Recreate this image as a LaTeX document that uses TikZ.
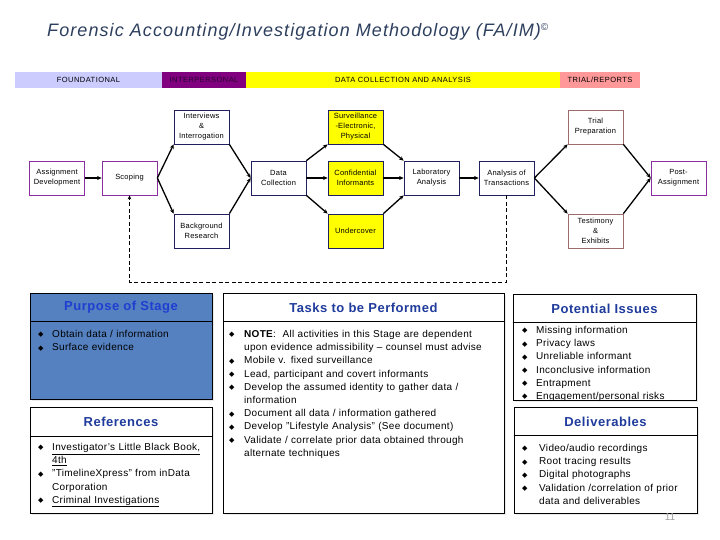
\documentclass[tikz,border=0pt]{standalone}
\usepackage{fontspec}
\setmainfont{Liberation Sans}
\newfontfamily\dvfont{DejaVu Sans}
\usetikzlibrary{arrows.meta,shadows}
\definecolor{titlecol}{HTML}{2D3F5E}
\definecolor{foundcol}{HTML}{CCCCFF}
\definecolor{interpcol}{HTML}{800080}
\definecolor{interptext}{HTML}{2A0030}
\definecolor{datacol}{HTML}{FFFF00}
\definecolor{trialcol}{HTML}{FF9999}
\definecolor{purplebd}{HTML}{8B2FA0}
\definecolor{navybd}{HTML}{202060}
\definecolor{brownbd}{HTML}{9C6B6B}
\definecolor{purposefill}{HTML}{5581C1}
\definecolor{hdrblue}{HTML}{1F3B9B}
\definecolor{hdrbright}{HTML}{1E3FD0}
\newcommand{\bul}[1]{\makebox[#1][l]{\raisebox{0.5pt}{\dvfont\fontsize{7}{7}\selectfont ◆}}}
\newcommand{\bitem}[2]{\par\noindent\hangindent=#1\hangafter=1\bul{#1}#2\par}
\begin{document}
\begin{tikzpicture}[x=1pt,y=-1pt,
  barseg/.style={minimum height=16pt, inner sep=0, font=\fontsize{7.5}{8}\selectfont\addfontfeature{LetterSpace=6}},
  flowbox/.style={draw, line width=0.7pt, fill=white, minimum width=55pt, minimum height=34pt, inner sep=1pt, align=center, font=\fontsize{7.5}{10}\selectfont\addfontfeature{LetterSpace=3}},
  purplebox/.style={flowbox, draw=purplebd},
  navybox/.style={flowbox, draw=navybd},
  yellowbox/.style={flowbox, draw=navybd, fill=datacol},
  brownbox/.style={flowbox, draw=brownbd},
  arr/.style={line width=1.3pt, -{Stealth[length=4.5pt,width=4pt]}},
  dashline/.style={line width=1pt, dash pattern=on 4pt off 2.5pt, -{Stealth[length=4pt,width=3.5pt]}},
  panel/.style={draw, line width=0.9pt, fill=white, inner sep=0, drop shadow={shadow xshift=2pt, shadow yshift=-2pt, fill=gray!30, opacity=0.5}},
  hdr/.style={font=\fontsize{13}{15}\selectfont\bfseries\addfontfeature{LetterSpace=4}, text=hdrblue, inner sep=0},
  body/.style={font=\fontsize{10}{13.2}\selectfont\addfontfeature{LetterSpace=3}, inner sep=0, anchor=north west}]
\useasboundingbox (0,0) rectangle (720,540);
\fill[white] (0,0) rectangle (720,540);

% title
\node[anchor=base west, inner sep=0, text=titlecol, font=\fontsize{18}{20}\selectfont\itshape\addfontfeature{LetterSpace=6}] (title) at (47,37) {Forensic Accounting/Investigation Methodology (FA/IM)\raisebox{6.5pt}{\fontsize{10}{10}\selectfont\upshape ©}};

% stage bar
\node[barseg, fill=foundcol, minimum width=147pt] (b1) at (88.5,80) {FOUNDATIONAL};
\node[barseg, fill=interpcol, text=interptext, minimum width=84pt] (b2) at (204,80) {INTERPERSONAL};
\node[barseg, fill=datacol, minimum width=314pt] (b3) at (403,80) {DATA COLLECTION AND ANALYSIS};
\node[barseg, fill=trialcol, minimum width=80pt] (b4) at (600,80) {TRIAL/REPORTS};

% flow nodes
\node[purplebox] (ad) at (57,178) {Assignment\\Development};
\node[purplebox] (sc) at (129.5,178) {Scoping};
\node[navybox] (ii) at (201.5,127) {Interviews\\\&\\Interrogation};
\node[navybox] (br) at (201.5,231) {Background\\Research};
\node[navybox] (dc) at (278.5,178) {Data\\Collection};
\node[yellowbox] (sv) at (355.5,127) {Surveillance\\-Electronic,\\Physical};
\node[yellowbox] (ci) at (355.5,178) {Confidential\\Informants};
\node[yellowbox] (uc) at (355.5,231) {Undercover};
\node[navybox] (la) at (431.5,178) {Laboratory\\Analysis};
\node[navybox] (at) at (506.5,178) {Analysis of\\Transactions};
\node[brownbox] (tp) at (595.5,127) {Trial\\Preparation};
\node[brownbox] (te) at (595.5,231) {Testimony\\\&\\Exhibits};
\node[purplebox] (pa) at (678.5,178) {Post-\\Assignment};

% connectors
\draw[arr] (ad) -- (sc);
\draw[arr] (sc.east) -- (ii.south west);
\draw[arr] (sc.east) -- (br.north west);
\draw[arr] (ii.south east) -- (dc.west);
\draw[arr] (br.north east) -- (dc.west);
\draw[arr] (dc.north east) -- (sv.south west);
\draw[arr] (dc.east) -- (ci.west);
\draw[arr] (dc.south east) -- (uc.north west);
\draw[arr] (sv.south east) -- (la.north west);
\draw[arr] (ci.east) -- (la.west);
\draw[arr] (uc.north east) -- (la.south west);
\draw[arr] (la) -- (at);
\draw[arr] (at.east) -- (tp.south west);
\draw[arr] (at.east) -- (te.north west);
\draw[arr] (tp.south east) -- (pa.west);
\draw[arr] (te.north east) -- (pa.west);
\coordinate (fbr) at (at.south |- 0,282);
\coordinate (fbl) at (sc.south |- 0,282);
\draw[dashline] (at.south) -- (fbr) -- (fbl) -- (sc.south);

% panels
\node[panel, fill=purposefill, minimum width=182pt, minimum height=106pt] (pur) at (121,346) {};
\node[panel, minimum width=182pt, minimum height=106pt] (ref) at (121,460) {};
\node[panel, minimum width=281pt, minimum height=220pt] (tsk) at (363.5,403) {};
\node[panel, minimum width=183pt, minimum height=106pt] (iss) at (604.5,347) {};
\node[panel, minimum width=183pt, minimum height=106pt] (del) at (605.5,460) {};
\draw[line width=0.9pt] ([yshift=-29pt]pur.north west) -- ([yshift=-29pt]pur.north east);
\draw[line width=0.9pt] ([yshift=-30pt]ref.north west) -- ([yshift=-30pt]ref.north east);
\draw[line width=0.9pt] ([yshift=-29pt]tsk.north west) -- ([yshift=-29pt]tsk.north east);
\draw[line width=0.9pt] ([yshift=-29pt]iss.north west) -- ([yshift=-29pt]iss.north east);
\draw[line width=0.9pt] ([yshift=-29pt]del.north west) -- ([yshift=-29pt]del.north east);

\node[hdr, text=hdrbright] (purh) at (121,307.5) {Purpose of Stage};
\node[hdr] (refh) at (121,421.5) {References};
\node[hdr] (tskh) at (363.5,308) {Tasks to be Performed};
\node[hdr] (issh) at (604.5,308.5) {Potential Issues};
\node[hdr] (delh) at (605.5,421.5) {Deliverables};

\node[body, text width=172pt] (purt) at (38,324) {\raggedright
\bitem{14pt}{Obtain data / information}%
\bitem{14pt}{Surface evidence}};
\node[body, text width=172pt] (reft) at (38,437) {\raggedright
\bitem{14pt}{\underline{Investigator's Little Black Book,}\newline\underline{4th}}%
\bitem{14pt}{"TimelineXpress" from inData\newline Corporation}%
\bitem{14pt}{\underline{Criminal Investigations}}};
\node[body, text width=272pt] (tskt) at (229,324) {\raggedright
\bitem{15pt}{\textbf{NOTE}:\ \ All activities in this Stage are dependent\newline upon evidence admissibility -- counsel must advise}%
\bitem{15pt}{Mobile v. fixed surveillance}%
\bitem{15pt}{Lead, participant and covert informants}%
\bitem{15pt}{Develop the assumed identity to gather data /\newline information}%
\bitem{15pt}{Document all data / information gathered}%
\bitem{15pt}{Develop "Lifestyle Analysis" (See document)}%
\bitem{15pt}{Validate / correlate prior data obtained through\newline alternate techniques}};
\node[body, text width=172pt] (isst) at (522,320) {\raggedright
\bitem{14pt}{Missing information}%
\bitem{14pt}{Privacy laws}%
\bitem{14pt}{Unreliable informant}%
\bitem{14pt}{Inconclusive information}%
\bitem{14pt}{Entrapment}%
\bitem{14pt}{Engagement/personal risks}};
\node[body, text width=172pt] (delt) at (522,438) {\raggedright
\bitem{17pt}{Video/audio recordings}%
\bitem{17pt}{Root tracing results}%
\bitem{17pt}{Digital photographs}%
\bitem{17pt}{Validation /correlation of prior\newline data and deliverables}};

\node[inner sep=0, text=gray!75, font=\fontsize{10}{11}\selectfont] (pg) at (670,517) {11};
\end{tikzpicture}
\end{document}
